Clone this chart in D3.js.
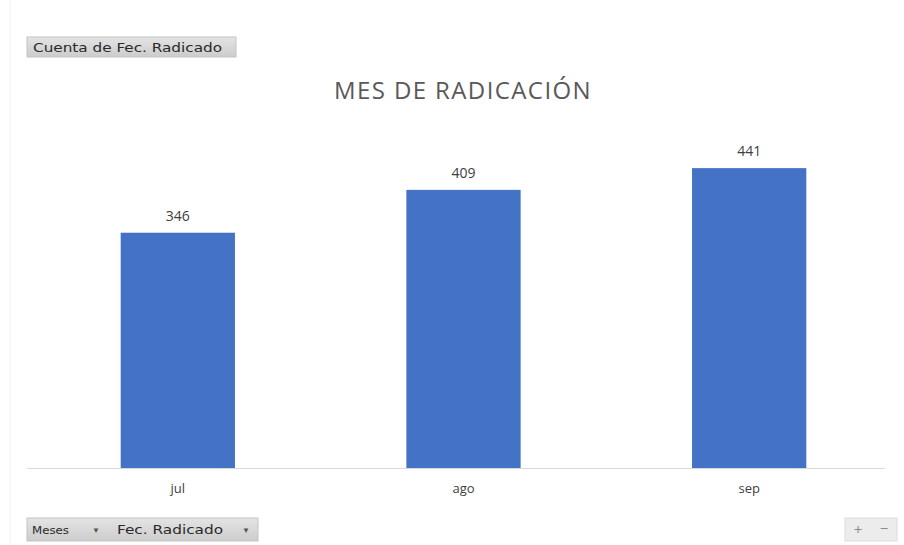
<!DOCTYPE html>
<html>
<head>
<meta charset="utf-8">
<script src="https://cdn.jsdelivr.net/npm/d3@7"></script>
<style>
html,body{margin:0;padding:0;background:#fff;}
svg{display:block;}
</style>
</head>
<body>
<svg id="chart" width="904" height="545"></svg>
<script>
const categories = ["jul", "ago", "sep"];
const values = [346, 409, 441];
const yDomain = [0, 500];
const chartTitle = "MES DE RADICACIÓN";
const valueField = "Cuenta de Fec. Radicado";
const axisFields = ["Meses", "Fec. Radicado"];

const svg = d3.select("#chart");
const font = "'Open Sans', 'Noto Sans', sans-serif";
const btnFont = "'DejaVu Sans', sans-serif";

// chart frame left edge
svg.append("line").attr("x1", 10).attr("x2", 10).attr("y1", 0).attr("y2", 545)
  .attr("stroke", "#eeeeee").attr("stroke-width", 1);

const x = d3.scaleBand().domain(categories).range([35, 892]).paddingInner(0.6).paddingOuter(0.3);
const y = d3.scaleLinear().domain(yDomain).range([468, 128]);

const defs = svg.append("defs");
const g1 = defs.append("linearGradient").attr("id", "btn").attr("x1", 0).attr("x2", 0).attr("y1", 0).attr("y2", 1);
g1.append("stop").attr("offset", "0%").attr("stop-color", "#e4e4e4");
g1.append("stop").attr("offset", "100%").attr("stop-color", "#cccccc");

// title
svg.append("text").attr("x", 463).attr("y", 99).attr("text-anchor", "middle")
  .attr("font-family", font).attr("font-size", 24).attr("fill", "#595959")
  .attr("letter-spacing", 1.4)
  .text(chartTitle);

// bars
svg.append("g").selectAll("rect").data(values).join("rect")
  .attr("x", (d, i) => x(categories[i]))
  .attr("width", x.bandwidth())
  .attr("y", d => y(d))
  .attr("height", d => y(0) - y(d))
  .attr("fill", "#4472c4");

// data labels
svg.append("g").selectAll("text").data(values).join("text")
  .attr("x", (d, i) => x(categories[i]) + x.bandwidth() / 2)
  .attr("y", d => y(d) - 12)
  .attr("text-anchor", "middle")
  .attr("font-family", font).attr("font-size", 14).attr("fill", "#404040")
  .text(d => d);

// x axis
const xAxis = svg.append("g").attr("transform", `translate(0,${y(0)})`)
  .call(d3.axisBottom(x).tickSize(0).tickPadding(16));
xAxis.select(".domain").remove();
xAxis.append("line").attr("x1", 27).attr("x2", 885).attr("y1", 0.5).attr("y2", 0.5)
  .attr("stroke", "#d9d9d9").attr("stroke-width", 1);
xAxis.selectAll(".tick text").attr("font-family", font).attr("font-size", 13).attr("fill", "#404040");

// value field button (top)
svg.append("rect").attr("x", 27).attr("y", 37).attr("width", 209).attr("height", 20)
  .attr("fill", "url(#btn)").attr("stroke", "#c4c4c4");
svg.append("text").attr("x", 33).attr("y", 52).attr("font-family", btnFont).attr("font-size", 12)
  .attr("fill", "#2a2a2a")
  .attr("textLength", 189).attr("lengthAdjust", "spacingAndGlyphs").text(valueField);

// axis field buttons (bottom)
svg.append("rect").attr("x", 27).attr("y", 518).attr("width", 231).attr("height", 23)
  .attr("fill", "url(#btn)").attr("stroke", "#c4c4c4");
svg.append("text").attr("x", 32).attr("y", 534).attr("font-family", btnFont).attr("font-size", 11)
  .attr("fill", "#2a2a2a")
  .attr("textLength", 37).attr("lengthAdjust", "spacingAndGlyphs").text(axisFields[0]);
svg.append("text").attr("x", 92).attr("y", 533).attr("font-family", font).attr("font-size", 8)
  .attr("fill", "#555").text("▼");
svg.append("text").attr("x", 117).attr("y", 534).attr("font-family", btnFont).attr("font-size", 12)
  .attr("fill", "#2a2a2a")
  .attr("textLength", 106).attr("lengthAdjust", "spacingAndGlyphs").text(axisFields[1]);
svg.append("text").attr("x", 242).attr("y", 533).attr("font-family", font).attr("font-size", 8)
  .attr("fill", "#555").text("▼");

// +/- button
svg.append("rect").attr("x", 845).attr("y", 518).attr("width", 52).attr("height", 23)
  .attr("fill", "#ececec").attr("stroke", "#dcdcdc");
svg.append("text").attr("x", 858).attr("y", 535).attr("text-anchor", "middle").attr("font-family", font)
  .attr("font-size", 15).attr("fill", "#8c8c8c").text("+");
svg.append("text").attr("x", 884).attr("y", 534).attr("text-anchor", "middle").attr("font-family", font)
  .attr("font-size", 15).attr("fill", "#8c8c8c").text("−");
</script>
</body>
</html>
